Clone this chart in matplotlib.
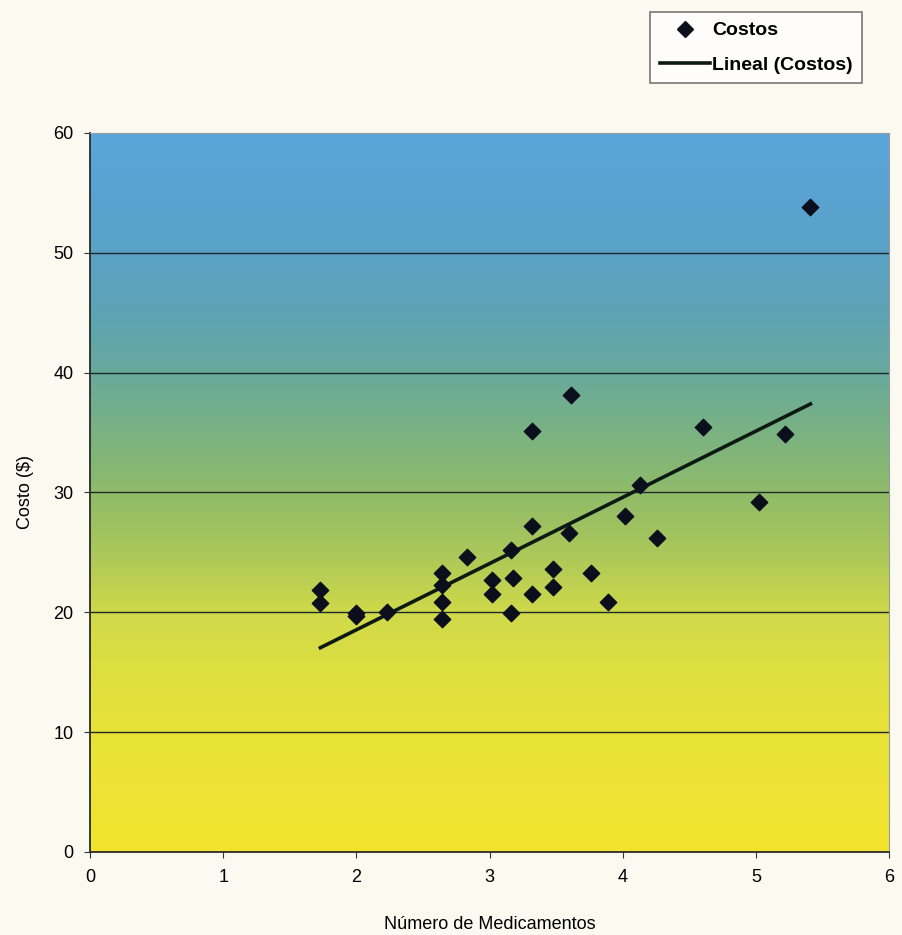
import numpy as np
import matplotlib
matplotlib.use("Agg")
import matplotlib.pyplot as plt
from matplotlib.colors import LinearSegmentedColormap
from matplotlib.lines import Line2D

plt.rcParams['font.family'] = ['Liberation Sans', 'DejaVu Sans']

# data
medicamentos = [1.73, 1.73, 2.0, 2.0, 2.23, 2.64, 2.64, 2.64, 2.64, 2.83,
                3.02, 3.02, 3.16, 3.16, 3.18, 3.32, 3.32, 3.32, 3.48, 3.48,
                3.60, 3.61, 3.76, 3.89, 4.02, 4.13, 4.26, 4.60, 5.02, 5.22, 5.41]
costos = [21.9, 20.8, 19.9, 19.7, 20.0, 23.3, 22.3, 20.9, 19.4, 24.6,
          22.7, 21.5, 25.2, 19.9, 22.9, 35.1, 27.2, 21.5, 23.6, 22.1,
          26.6, 38.1, 23.3, 20.9, 28.0, 30.6, 26.2, 35.5, 29.2, 34.9, 53.8]

x_ticks = [0, 1, 2, 3, 4, 5, 6]
y_ticks = [0, 10, 20, 30, 40, 50, 60]

bg = "#fbfaf1"
fig = plt.figure(figsize=(9.03, 9.35), dpi=100, facecolor=bg)
ax = fig.add_axes([0.0997, 0.0888, 0.8848, 0.769])

# gradient background (yellow at bottom -> blue at top), stops every 5 units
cmap = LinearSegmentedColormap.from_list(
    "fondo", ["#f2e42e", "#eee335", "#e8e238", "#dedf40", "#cfd94a",
              "#aac75a", "#8fbb6a", "#7ab282", "#68a99c", "#5ea3b4",
              "#5aa2c6", "#59a3d2", "#5aa6da"])
grad = np.linspace(0, 1, 256).reshape(-1, 1)
ax.imshow(grad, aspect="auto", cmap=cmap, origin="lower",
          extent=[0, 6, 0, 60], zorder=0)

for yv in y_ticks[1:-1]:
    ax.axhline(yv, color="#1e2a2a", lw=1.0, zorder=1)

# linear trendline
m, b = np.polyfit(medicamentos, costos, 1)
xt = np.array([min(medicamentos), max(medicamentos)])
ax.plot(xt, m * xt + b, color="#0d1a14", lw=2.6, zorder=2)

ax.scatter(medicamentos, costos, marker="D", s=70, color="#0b0f1c",
           edgecolors="#0b0f1c", linewidths=1.0, joinstyle="round", zorder=3)

ax.set_xlim(0, 6)
ax.set_ylim(0, 60)
ax.set_xticks(x_ticks)
ax.set_yticks(y_ticks)
ax.tick_params(labelsize=13, length=4, color="#333333", pad=8)
for s in ["top", "right"]:
    ax.spines[s].set_color("#9a9a9a")
for s in ["left", "bottom"]:
    ax.spines[s].set_color("#2a2a2a")
    ax.spines[s].set_linewidth(1.3)

ax.set_xlabel("Número de Medicamentos", fontsize=13, labelpad=22)
ax.set_ylabel("Costo ($)", fontsize=13, labelpad=14)

handles = [
    Line2D([], [], marker="D", color="#0b0f1c", ls="none", markersize=8),
    Line2D([], [], color="#0d1a14", lw=2.6),
]
leg = fig.legend(handles, ["Costos", "Lineal (Costos)"],
                 loc="upper right", bbox_to_anchor=(0.955, 0.987),
                 prop={"size": 14, "weight": "bold"},
                 frameon=True, fancybox=False, handlelength=2.6,
                 handletextpad=0.1, borderpad=0.5, labelspacing=0.85,
                 borderaxespad=0.0)
leg.get_frame().set_edgecolor("#555555")
leg.get_frame().set_linewidth(1.2)
leg.get_frame().set_facecolor("white")

fig.savefig("out.png", dpi=100, facecolor=bg)
